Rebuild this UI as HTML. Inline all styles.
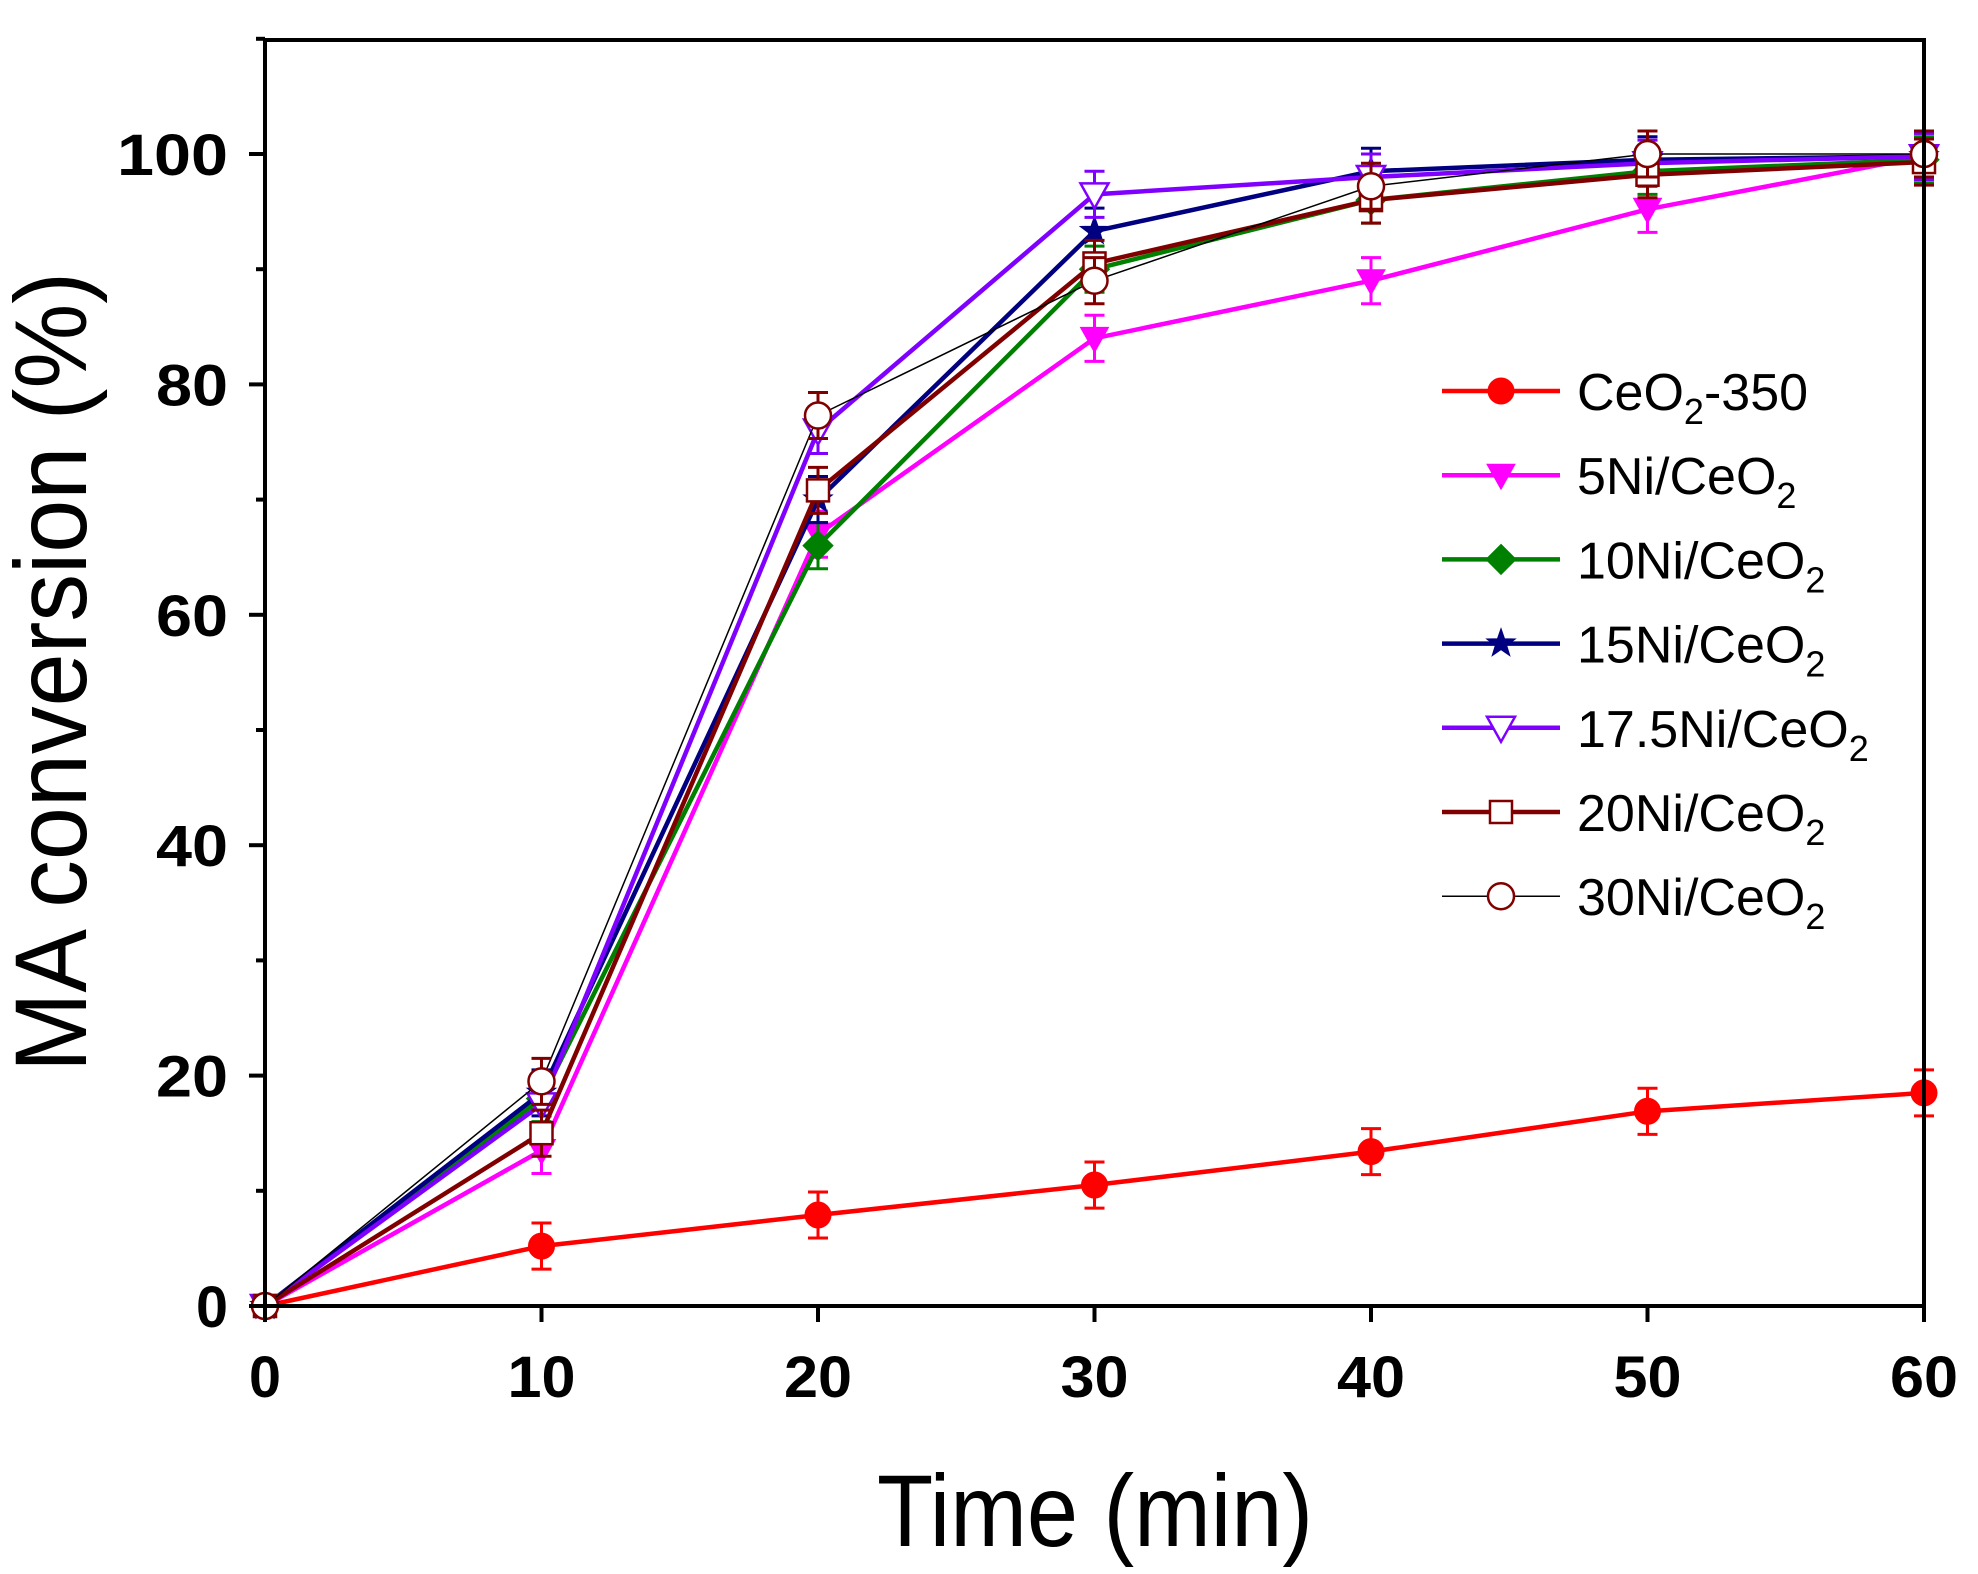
<!DOCTYPE html>
<html><head><meta charset="utf-8"><style>
html,body{margin:0;padding:0;background:#fff;}
svg{display:block;}
text{font-family:"Liberation Sans",Arial,sans-serif;}
</style></head><body>
<svg id="s" width="1978" height="1574" xmlns="http://www.w3.org/2000/svg">
<g id="plot"></g>
<g id="axes" stroke="#000" stroke-width="4" fill="none">
<rect x="265" y="40" width="1659" height="1266"/>
</g>
<g id="ticks" stroke="#000" stroke-width="4"></g>
<g id="labels" font-weight="bold" font-size="58" fill="#000"></g>
<text x="1095" y="1546" font-size="102" text-anchor="middle" textLength="436" lengthAdjust="spacingAndGlyphs">Time (min)</text>
<text transform="translate(86,672) rotate(-90)" font-size="102" text-anchor="middle" textLength="800" lengthAdjust="spacingAndGlyphs">MA conversion (%)</text>
<g id="legend"></g>
</svg>
<script>
var NS="http://www.w3.org/2000/svg";
function el(p,t,a,txt){var e=document.createElementNS(NS,t);for(var k in a)e.setAttribute(k,a[k]);if(txt!==undefined)e.textContent=txt;p.appendChild(e);return e;}
function X(t){return 265+27.65*t;}
function Y(v){return 1306-11.52*v;}
var ticks=document.getElementById('ticks'),labels=document.getElementById('labels');
for(var t=0;t<=60;t+=10){el(ticks,'line',{x1:X(t),x2:X(t),y1:1306,y2:1322});
 el(labels,'text',{x:X(t),y:1397,'text-anchor':'middle',textLength:t==0?32:68,lengthAdjust:'spacingAndGlyphs'},String(t));}
for(var v=0;v<=110;v+=10){var L=(v%20==0)?16:9;el(ticks,'line',{x1:265,x2:265-L,y1:Y(v),y2:Y(v)});
 if(v%20==0&&v<=100){var w=v==0?32:(v==100?111:72);el(labels,'text',{x:228,y:Y(v)+21,'text-anchor':'end',textLength:w,lengthAdjust:'spacingAndGlyphs'},String(v));}}
var xs=[0,10,20,30,40,50,60];
var S=[
{c:'#ff0000',m:'circle',f:1,d:[0,5.2,7.9,10.5,13.4,16.9,18.5],lc:'#ff0000',lw:4.5,name:['CeO','2','-350']},
{c:'#ff00ff',m:'tri',f:1,d:[0,13.5,67,84,89,95.2,99.8],lc:'#ff00ff',lw:4.5,name:['5Ni/CeO','2','']},
{c:'#008000',m:'diamond',f:1,d:[0,18,66,90,96,98.5,99.5],lc:'#008000',lw:4.5,name:['10Ni/CeO','2','']},
{c:'#000080',m:'star',f:1,d:[0,18.5,70,93.3,98.5,99.5,99.8],lc:'#000080',lw:4.5,name:['15Ni/CeO','2','']},
{c:'#8000ff',m:'tri',f:0,d:[0,17.5,76,96.5,98,99.2,99.8],lc:'#8000ff',lw:4.5,name:['17.5Ni/CeO','2','']},
{c:'#800000',m:'square',f:0,d:[0,15,70.8,90.5,96,98.2,99.3],lc:'#800000',lw:4.5,name:['20Ni/CeO','2','']},
{c:'#800000',m:'circle',f:0,d:[0,19.5,77.3,89,97.2,100,100],lc:'#000000',lw:1.5,name:['30Ni/CeO','2','']}
];
function marker(g,s,x,y){var fill=s.f?s.c:'#fff',a={fill:fill,stroke:s.c,'stroke-width':s.f?1:2.5};
 if(s.m=='circle'){a.cx=x;a.cy=y;a.r=13;el(g,'circle',a);}
 else if(s.m=='square'){a.x=x-11;a.y=y-11;a.width=22;a.height=22;el(g,'rect',a);}
 else if(s.m=='tri'){a.points=(x-14)+','+(y-11)+' '+(x+14)+','+(y-11)+' '+x+','+(y+14);el(g,'polygon',a);}
 else if(s.m=='diamond'){a.points=x+','+(y-15)+' '+(x+15)+','+y+' '+x+','+(y+15)+' '+(x-15)+','+y;el(g,'polygon',a);}
 else if(s.m=='star'){var p=[];for(var i=0;i<10;i++){var r=i%2?6:15,an=-Math.PI/2+i*Math.PI/5;p.push((x+r*Math.cos(an)).toFixed(1)+','+(y+r*Math.sin(an)).toFixed(1));}a.points=p.join(' ');el(g,'polygon',a);}
}
var plot=document.getElementById('plot');
S.forEach(function(s){
 var pts=s.d.map(function(v,i){return X(xs[i])+','+Y(v);}).join(' ');
 el(plot,'polyline',{points:pts,fill:'none',stroke:s.lc,'stroke-width':s.lw});
 s.d.forEach(function(v,i){if(i==0)return;var x=X(xs[i]),y=Y(v),e=2*11.52;
  el(plot,'path',{d:'M'+x+','+(y-e)+'V'+(y+e)+'M'+(x-10)+','+(y-e)+'H'+(x+10)+'M'+(x-10)+','+(y+e)+'H'+(x+10),stroke:s.c,'stroke-width':3,fill:'none'});});
 s.d.forEach(function(v,i){marker(plot,s,X(xs[i]),Y(v));});
});
var lg=document.getElementById('legend');
S.forEach(function(s,i){var y=391+84.2*i;
 el(lg,'line',{x1:1442,x2:1560,y1:y,y2:y,stroke:s.lc,'stroke-width':s.lw});
 marker(lg,s,1501,y);
 var t=el(lg,'text',{x:1577,y:y+19,'font-size':52,fill:'#000'});
 el(t,'tspan',{},s.name[0]);el(t,'tspan',{dy:14,'font-size':36},s.name[1]);
 if(s.name[2])el(t,'tspan',{dy:-14,'font-size':52},s.name[2]);
});
</script>
</body></html>
